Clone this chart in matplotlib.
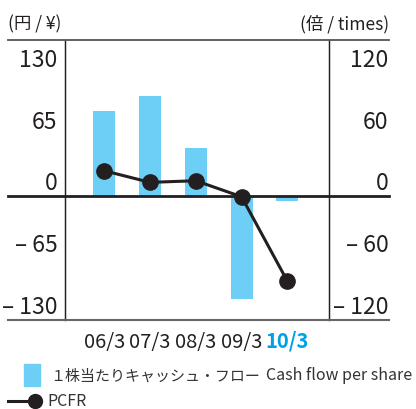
import matplotlib.pyplot as plt
from matplotlib.lines import Line2D
from matplotlib.patches import Rectangle
from matplotlib.transforms import blended_transform_factory

plt.rcParams['font.family'] = ['Noto Sans CJK JP', 'DejaVu Sans']

# Data
years = ['06/3', '07/3', '08/3', '09/3', '10/3']
cash_flow = [89.7, 106, 51, -108, -4.6]      # 円 / ¥
pcfr = [24.9, 13.6, 15.2, -0.4, -82.5]       # 倍 / times
left_ticks = [130, 65, 0, -65, -130]
right_ticks = [120, 60, 0, -60, -120]

W, H = 416, 410
fig = plt.figure(figsize=(W / 100, H / 100), dpi=100)

def fx(px):
    return px / W

def fy(py):
    return 1 - py / H

def fmt(v):
    return f'\u2013 {abs(v)}' if v < 0 else str(v)

ax = fig.add_axes([fx(65.3), fy(320.5), fx(329.3) - fx(65.3), fy(41) - fy(320.5)])
ax2 = ax.twinx()

bar_color = '#6dcff6'
dark = '#231f20'
text_color = '#231f20'
x = list(range(len(years)))

ax.bar(x, cash_flow, width=0.48, color=bar_color, zorder=1)
ax.set_xlim(-0.852, 4.918)
ax.set_ylim(-130, 165)
ax2.set_ylim(-120, 120 * 165 / 130)
ax2.plot(x, pcfr, color=dark, lw=2.2, marker='o', ms=11, zorder=3)

for a in (ax, ax2):
    a.set_xticks([])
    a.set_yticks([])
    a.spines['top'].set_visible(False)
    a.spines['bottom'].set_visible(False)
    a.spines['left'].set_linewidth(0.9)
    a.spines['right'].set_linewidth(0.9)
    a.spines['left'].set_color(dark)
    a.spines['right'].set_color(dark)

# tick labels sit just above their value
tl = blended_transform_factory(fig.transFigure, ax.transData)
for v in left_ticks:
    ax.annotate(fmt(v), xy=(fx(57.5), v), xycoords=tl, xytext=(0, 7),
                textcoords='offset pixels', ha='right', va='baseline',
                fontsize=16.5, color=text_color, annotation_clip=False)
tr = blended_transform_factory(fig.transFigure, ax2.transData)
for v in right_ticks:
    ax2.annotate(fmt(v), xy=(fx(388.5), v), xycoords=tr, xytext=(0, 7),
                 textcoords='offset pixels', ha='right', va='baseline',
                 fontsize=16.5, color=text_color, annotation_clip=False)

# x labels
tx = blended_transform_factory(ax.transData, fig.transFigure)
for i, lab in enumerate(years):
    last = i == len(years) - 1
    ax.text(i, fy(348), lab, transform=tx, ha='center', va='baseline',
            fontsize=14.5, color='#00a0e9' if last else text_color,
            fontweight='bold' if last else 'normal')

# horizontal rules
fig.add_artist(Line2D([fx(8), fx(389)], [fy(41), fy(41)], transform=fig.transFigure,
                      color='#555555', lw=1.3))
fig.add_artist(Line2D([fx(8), fx(389)], [fy(320.5), fy(320.5)], transform=fig.transFigure,
                      color='#666666', lw=1.5))
zero_y = fig.transFigure.inverted().transform(ax.transData.transform((0, 0)))[1]
fig.add_artist(Line2D([fx(8), fx(389)], [zero_y, zero_y], transform=fig.transFigure,
                      color=dark, lw=2.0, zorder=2))

# headers
fig.text(fx(8), fy(24), '(円 / ¥)', ha='left', va='center', fontsize=12.5, color=text_color)
fig.text(fx(389), fy(24), '(倍 / times)', ha='right', va='center', fontsize=12.5, color=text_color)

# legend
fig.add_artist(Rectangle((fx(24), fy(387)), fx(40) - fx(24), fy(365) - fy(387),
                         transform=fig.transFigure, color=bar_color))
fig.text(fx(50), fy(376), '１株当たりキャッシュ・フロー', ha='left',
         va='center', fontsize=10.8, color='#333333')
fig.text(fx(266), fy(376), 'Cash flow per share', ha='left',
         va='center', fontsize=11.5, color='#333333')
fig.add_artist(Line2D([fx(8), fx(34)], [fy(401.7), fy(401.7)], transform=fig.transFigure,
                      color=dark, lw=2.2))
fig.add_artist(Line2D([fx(35)], [fy(401.7)], transform=fig.transFigure, color=dark,
                      marker='o', ms=10))
fig.text(fx(47), fy(401.7), 'PCFR', ha='left', va='center', fontsize=11.5, color='#333333')

fig.savefig('out.png', dpi=100)
